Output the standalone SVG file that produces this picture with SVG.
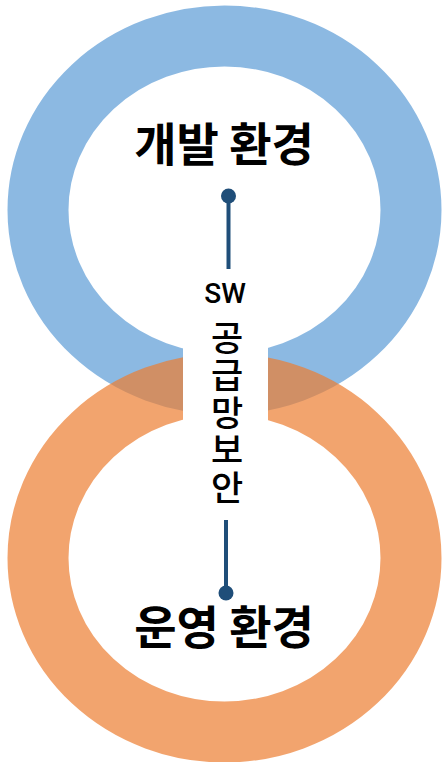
<svg xmlns="http://www.w3.org/2000/svg" width="442" height="762" viewBox="0 0 442 762">
<style>
.ring{fill:none;stroke-width:61;opacity:0.7}
.title{font-family:"Noto Sans CJK KR","Noto Sans",sans-serif;font-weight:700;font-size:46px;fill:#000;text-anchor:middle}
.label{font-family:"Noto Sans CJK KR",sans-serif;font-weight:500;font-size:35px;fill:#000;writing-mode:vertical-rl;text-orientation:upright;letter-spacing:2.5px}
.sw{font-family:Roboto,"Noto Sans",sans-serif;font-weight:500;font-size:28px;fill:#000;text-anchor:middle}
.conn{stroke:#1F4E79;stroke-width:4;fill:none}
.dot{fill:#1F4E79}
</style>
<rect width="442" height="762" fill="#fff"/>
<g id="dev-ring"><ellipse class="ring" cx="224.5" cy="210" rx="186.5" ry="174" stroke="#5B9BD5"/></g>
<g id="ops-ring"><ellipse class="ring" cx="224.5" cy="558" rx="186.5" ry="174" stroke="#ED7D31"/></g>
<rect id="gap" x="183" y="300" width="85" height="200" fill="#fff"/>
<g id="dev"><text class="title" x="224" y="161">개발 환경</text></g>
<g id="ops"><text class="title" x="224" y="644">운영 환경</text></g>
<g id="sw-security">
<text class="sw" x="225" y="303">SW</text>
<text class="label" x="227" y="320">공급망보안</text>
</g>
<g id="connectors">
<line class="conn" x1="228.5" y1="196" x2="228.5" y2="269"/>
<circle class="dot" cx="228.5" cy="196" r="7.5"/>
<line class="conn" x1="226" y1="520" x2="226" y2="593"/>
<circle class="dot" cx="226" cy="593" r="7.5"/>
</g>
</svg>
